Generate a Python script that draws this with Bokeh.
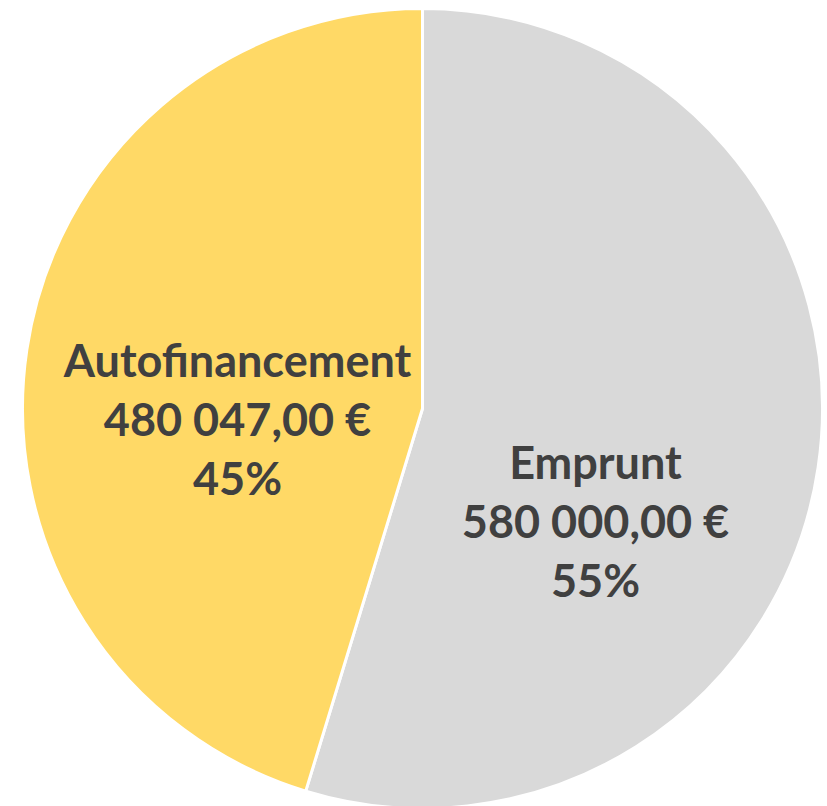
import math
from bokeh.plotting import figure
from bokeh.models import ColumnDataSource, Range1d
from bokeh.core.properties import value
from bokeh.embed import file_html
from bokeh.resources import INLINE

categories = ["Emprunt", "Autofinancement"]
amounts = [580000.00, 480047.00]
amount_labels = ["580 000,00 €", "480 047,00 €"]
pct_labels = ["55%", "45%"]
colors = ["#D9D9D9", "#FFD966"]

W, H = 827, 806
cx, cy, R = 422, H - 408, 400

total = sum(amounts)
starts, ends = [], []
ang = math.pi / 2
for a in amounts:
    sweep = 2 * math.pi * a / total
    ends.append(ang)
    starts.append(ang - sweep)
    ang -= sweep

src = ColumnDataSource(dict(cat=categories, start=starts, end=ends, color=colors,
                            x=[cx] * 2, y=[cy] * 2))

p = figure(width=W, height=H, output_backend="svg", toolbar_location=None,
           x_range=Range1d(0, W), y_range=Range1d(0, H), min_border=0)
p.axis.visible = False
p.grid.visible = False
p.outline_line_color = None
p.background_fill_color = "white"
p.border_fill_color = "white"

p.wedge(x="x", y="y", radius=R, radius_units="screen", start_angle="start",
        end_angle="end", fill_color="color", line_color="white", line_width=3,
        source=src)

# label anchor positions (layout), in pixels relative to pie centre
label_offsets = [(173, -112), (-185, -10)]
line_gap = 59
lx, ly, lt = [], [], []
for i in range(2):
    ox, oy = label_offsets[i]
    for j, t in enumerate([categories[i], amount_labels[i], pct_labels[i]]):
        lx.append(cx + ox)
        ly.append(cy + oy + (1 - j) * line_gap)
        lt.append(t)

p.text(x=lx, y=ly, text=lt, text_align="center", text_baseline="middle",
       text_font=value("Lato"), text_font_style="bold", text_font_size="45px",
       text_color="#404040")

open("out.html", "w").write(file_html(p, INLINE))
